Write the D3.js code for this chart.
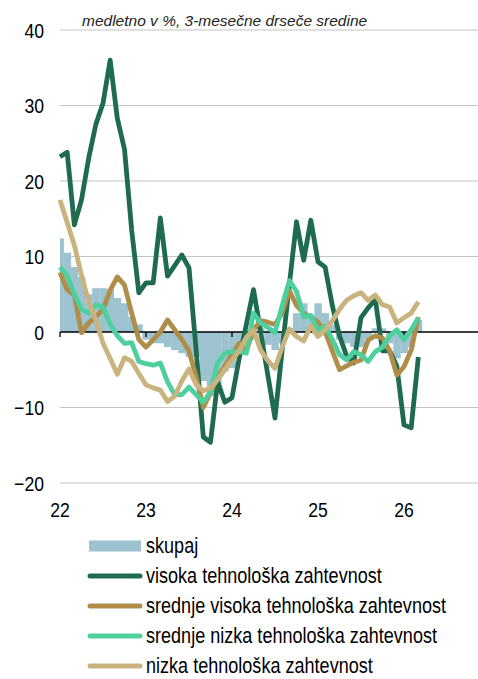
<!DOCTYPE html>
<html><head><meta charset="utf-8">
<script src="https://cdn.jsdelivr.net/npm/d3@7"></script>
<style>
html,body{margin:0;padding:0;background:#fff;}
svg{display:block;}
.nar{font-family:"Liberation Sans",Arial,sans-serif;}
</style></head>
<body>
<svg id="c" width="478" height="679"></svg>
<script>
const title = "medletno v %, 3-mesečne drseče sredine";
const yearLabels = ["22","23","24","25","26"];
const yearTickMonths = [0,12,24,36,48];
const yTicks = [40,30,20,10,0,-10,-20];
const months = d3.range(51).map(i => (2022 + Math.floor(i/12)) + "-" + String(i%12+1).padStart(2,"0"));

const seriesNames = ["skupaj","visoka tehnološka zahtevnost","srednje visoka tehnološka zahtevnost","srednje nizka tehnološka zahtevnost","nizka tehnološka zahtevnost"];

const skupaj = [12.4,10.5,8.6,7.3,5.0,5.8,5.8,5.6,4.5,3.8,2.0,1.0,-1.0,-1.5,-1.5,-2.0,-2.4,-2.8,-3.3,-3.3,-6.5,-8.5,-7.7,-5.2,-4.8,-3.0,-2.0,-1.0,0.5,-1.7,-2.4,-1.5,0.5,2.5,3.8,2.2,3.8,2.5,1.0,-1.0,-1.5,-2.0,-2.0,-1.0,0.5,0.5,-1.5,-3.5,-2.8,-2.0,1.6];
const visoka = [23.2,23.8,14.2,17.5,23.0,27.5,30.3,36.0,28.3,24.2,13.5,5.2,6.5,6.5,15.1,7.4,8.8,10.2,8.5,-2.5,-13.9,-14.6,-6.6,-9.3,-8.7,-3.5,1.0,5.6,0.0,-5.7,-11.4,-2.4,6.3,14.6,9.5,14.8,9.3,8.6,3.5,-0.5,-3.2,-4.1,1.9,3.2,4.3,-2.5,-2.5,-4.5,-12.3,-12.7,-3.3];
const srVisoka = [7.9,5.6,4.9,-0.1,1.2,2.0,3.0,5.5,7.3,6.2,2.5,-1.0,-2.0,-1.0,0.0,1.6,0.3,-1.0,-2.5,-6.0,-10.0,-8.0,-6.0,-4.5,-3.0,-1.5,-2.5,0.3,1.5,1.3,1.0,2.5,5.5,3.5,2.5,2.0,1.3,0.0,-2.5,-5.0,-4.5,-4.0,-3.7,-1.1,-0.5,-0.8,-2.5,-5.7,-4.6,-2.4,2.0];
const srNizka = [8.6,7.5,5.0,3.0,2.5,3.6,3.3,1.0,-0.5,-1.5,-1.4,-3.9,-4.2,-4.4,-4.1,-6.6,-8.3,-8.3,-7.3,-8.3,-9.3,-7.9,-4.1,-2.8,-2.6,-2.6,-2.8,2.5,1.2,0.6,-0.1,3.5,6.8,5.4,2.0,2.2,0.2,0.8,-1.0,-3.0,-3.7,-2.6,-3.0,-3.9,-2.6,-2.0,-0.5,0.3,-1.0,0.3,1.9];
const nizka = [17.5,14.5,11.5,7.5,4.0,1.6,-1.5,-3.5,-5.6,-3.4,-3.9,-5.5,-7.0,-7.4,-7.7,-9.2,-8.5,-6.5,-4.9,-7.0,-7.8,-7.4,-6.3,-5.0,-3.7,-2.5,-0.7,0.3,-2.4,-3.8,-4.8,-2.0,0.4,-0.6,-1.2,0.8,-0.6,0.3,1.5,3.0,4.2,4.8,5.2,4.2,4.9,3.6,3.3,1.2,1.9,2.5,4.0];

const colors = {bar:"#9dc3d1", vis:"#1f6b4f", svis:"#b08d48", sniz:"#4ecf9e", niz:"#c9b47f", grid:"#c4c4c4"};
const NARROW = 0.84;

const svg = d3.select("#c");
const L = 60, R = 478, T = 30, B = 483;
const x = d3.scaleLinear().domain([0,48]).range([60,404]);
const y = d3.scaleLinear().domain([-20,40]).range([B,T]);

svg.append("defs").append("clipPath").attr("id","clip")
  .append("rect").attr("x",L).attr("y",0).attr("width",R-L).attr("height",679);

// gridlines
svg.append("g").selectAll("line").data(yTicks.filter(d=>d!==0)).join("line")
  .attr("x1",L).attr("x2",R).attr("y1",d=>y(d)).attr("y2",d=>y(d))
  .attr("stroke",colors.grid).attr("stroke-width",1.2);

// y labels
svg.append("g").attr("class","nar").selectAll("text").data(yTicks).join("text")
  .attr("transform",d=>`translate(44,${y(d)}) scale(${NARROW},1)`)
  .attr("dy","0.36em").attr("text-anchor","end")
  .attr("font-size",21).attr("fill","#000")
  .text(d => d<0 ? "\u2212"+Math.abs(d) : String(d));

// bars
svg.append("g").attr("clip-path","url(#clip)").selectAll("rect").data(skupaj).join("rect")
  .attr("x",(d,i)=>x(i-0.5)).attr("width",(d,i)=>x(i+0.5)-x(i-0.5)+0.3)
  .attr("y",d=>y(Math.max(0,d))).attr("height",d=>Math.abs(y(d)-y(0)))
  .attr("fill",colors.bar);

// zero axis with ticks
svg.append("line").attr("x1",L).attr("x2",R).attr("y1",y(0)).attr("y2",y(0))
  .attr("stroke","#000").attr("stroke-width",1.3);
svg.append("g").selectAll("line").data(yearTickMonths).join("line")
  .attr("x1",d=>x(d)).attr("x2",d=>x(d)).attr("y1",y(0)).attr("y2",y(0)+5)
  .attr("stroke","#000").attr("stroke-width",1.3);

// x labels
svg.append("g").attr("class","nar").selectAll("text").data(yearTickMonths).join("text")
  .attr("transform",d=>`translate(${x(d)},517) scale(${NARROW},1)`)
  .attr("text-anchor","middle")
  .attr("font-size",21).attr("fill","#000")
  .text((d,i)=>yearLabels[i]);

// lines
const line = d3.line().x((d,i)=>x(i)).y(d=>y(d));
const lineSeries = [[visoka,colors.vis],[srVisoka,colors.svis],[srNizka,colors.sniz],[nizka,colors.niz]];
svg.append("g").selectAll("path").data(lineSeries).join("path")
  .attr("d",d=>line(d[0])).attr("fill","none").attr("stroke",d=>d[1])
  .attr("stroke-width",4.8).attr("stroke-linejoin","round").attr("stroke-linecap","butt");

// title
svg.append("text").attr("x",82).attr("y",26).attr("font-family","'Liberation Sans',Arial,sans-serif")
  .attr("font-style","italic").attr("font-size",15.5).attr("fill","#222").text(title);

// legend
const lg = svg.append("g");
const legY = [546,576,606,636,666];
const legColors = [colors.bar,colors.vis,colors.svis,colors.sniz,colors.niz];
legY.forEach((ly,i)=>{
  if(i===0){
    lg.append("rect").attr("x",89).attr("y",ly-5.5).attr("width",52).attr("height",11).attr("fill",legColors[i]);
  } else {
    lg.append("line").attr("x1",90).attr("x2",140).attr("y1",ly).attr("y2",ly)
      .attr("stroke",legColors[i]).attr("stroke-width",5).attr("stroke-linecap","round");
  }
  lg.append("text").attr("class","nar")
    .attr("transform",`translate(146,${ly}) scale(${NARROW},1)`).attr("dy","0.33em")
    .attr("font-size",21.5).attr("fill","#000").text(seriesNames[i]);
});
</script>
</body></html>
